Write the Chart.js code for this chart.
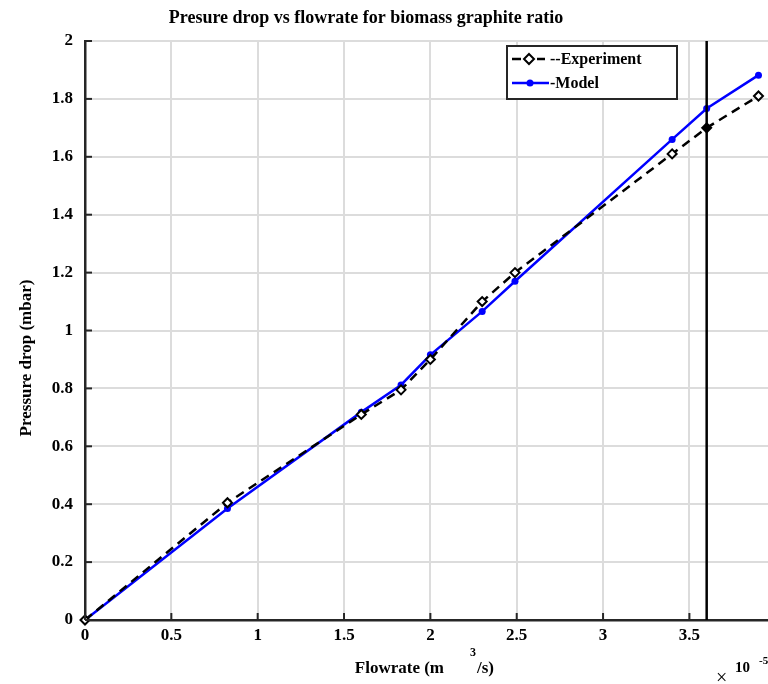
<!DOCTYPE html>
<html>
<head>
<meta charset="utf-8">
<script src="https://cdn.jsdelivr.net/npm/chart.js@4.4.1/dist/chart.umd.min.js"></script>
<style>
  html, body { margin: 0; padding: 0; background: #fff; overflow: hidden; }
  #myChart { display: block; }
</style>
</head>
<body>
<canvas id="myChart" width="785" height="684"></canvas>
<script>
// flowrate (x 10^-5 m3/s)
const flowrate = [0, 0.825, 1.6, 1.83, 2.0, 2.3, 2.49, 3.4, 3.6, 3.9];
// pressure drop (mbar)
const experiment = [0, 0.405, 0.71, 0.795, 0.9, 1.1, 1.2, 1.61, 1.70, 1.81];
const model = [0, 0.385, 0.718, 0.812, 0.916, 1.066, 1.17, 1.66, 1.767, 1.882];
const markerX = 3.6;
const xTicks = [0, 0.5, 1, 1.5, 2, 2.5, 3, 3.5, 4];
const yTicks = [0, 0.2, 0.4, 0.6, 0.8, 1, 1.2, 1.4, 1.6, 1.8, 2];

const FONT = '"Liberation Serif", "Times New Roman", serif';

// utility: zip x/y arrays into points
function toPoints(xs, ys) {
    return xs.map((x, i) => ({ x: x, y: ys[i] }));
}

const expFill = flowrate.map(x => x === markerX ? '#000' : '#fff');

// extra drawing: title, legend, inward ticks, axis labels
const decor = {
    id: 'decor',
    afterDraw(chart) {
        const ctx = chart.ctx;
        const xs = chart.scales.x, ys = chart.scales.y;
        const a = chart.chartArea;
        ctx.save();
        // inward ticks
        ctx.strokeStyle = '#262626';
        ctx.lineWidth = 2;
        xTicks.forEach(v => {
            const px = xs.getPixelForValue(v);
            ctx.beginPath(); ctx.moveTo(px, a.bottom); ctx.lineTo(px, a.bottom - 7); ctx.stroke();
        });
        yTicks.forEach(v => {
            const py = ys.getPixelForValue(v);
            ctx.beginPath(); ctx.moveTo(a.left, py); ctx.lineTo(a.left + 7, py); ctx.stroke();
        });

        ctx.fillStyle = '#000';
        ctx.textBaseline = 'alphabetic';
        // title
        ctx.font = 'bold 18px ' + FONT;
        ctx.textAlign = 'center';
        ctx.fillText('Presure drop vs flowrate for biomass graphite ratio', 366, 23);

        // y axis title
        ctx.save();
        ctx.translate(27, 358);
        ctx.rotate(-Math.PI / 2);
        ctx.font = 'bold 17px ' + FONT;
        ctx.textBaseline = 'middle';
        ctx.fillText('Pressure drop (mbar)', 0, 0);
        ctx.restore();

        // x axis title
        ctx.font = 'bold 17px ' + FONT;
        ctx.textAlign = 'right';
        ctx.fillText('Flowrate (m', 444, 673);
        ctx.textAlign = 'left';
        ctx.font = 'bold 12px ' + FONT;
        ctx.fillText('3', 470, 656);
        ctx.font = 'bold 17px ' + FONT;
        ctx.fillText('/s)', 477, 673);

        // exponent
        ctx.font = '20px ' + FONT;
        ctx.fillText('\u00d7', 716, 684);
        ctx.font = 'bold 15px ' + FONT;
        ctx.fillText('10', 735, 672);
        ctx.font = 'bold 11px ' + FONT;
        ctx.fillText('-5', 759, 664);

        // legend box
        const lx = 507, ly = 46, lw = 170, lh = 53;
        ctx.fillStyle = '#fff';
        ctx.fillRect(lx, ly, lw, lh);
        ctx.strokeStyle = '#262626';
        ctx.lineWidth = 2;
        ctx.strokeRect(lx, ly, lw, lh);

        // experiment entry
        ctx.strokeStyle = '#000';
        ctx.lineWidth = 2.5;
        ctx.beginPath(); ctx.moveTo(512, 59); ctx.lineTo(521, 59); ctx.moveTo(537, 59); ctx.lineTo(545, 59); ctx.stroke();
        ctx.lineWidth = 2;
        ctx.beginPath();
        ctx.moveTo(529, 54); ctx.lineTo(534, 59); ctx.lineTo(529, 64); ctx.lineTo(524, 59); ctx.closePath();
        ctx.fillStyle = '#fff'; ctx.fill(); ctx.stroke();
        ctx.fillStyle = '#000';
        ctx.font = 'bold 16px ' + FONT;
        ctx.fillText('--Experiment', 550, 64);

        // model entry
        ctx.strokeStyle = '#0000ff';
        ctx.lineWidth = 2.5;
        ctx.beginPath(); ctx.moveTo(512, 83); ctx.lineTo(549, 83); ctx.stroke();
        ctx.fillStyle = '#0000ff';
        ctx.beginPath(); ctx.arc(530, 83, 3.5, 0, Math.PI * 2); ctx.fill();
        ctx.fillStyle = '#000';
        ctx.fillText('-Model', 550, 88);
        ctx.restore();
    }
};

const canvas = document.getElementById('myChart');
new Chart(canvas.getContext('2d'), {
    type: 'scatter',
    data: {
        datasets: [
            {
                label: 'vline',
                data: [{ x: markerX, y: 0 }, { x: markerX, y: 2 }],
                showLine: true,
                borderColor: '#000',
                borderWidth: 2.5,
                pointRadius: 0
            },
            {
                label: '--Experiment',
                data: toPoints(flowrate, experiment),
                showLine: true,
                borderColor: '#000',
                borderWidth: 2.5,
                borderDash: [9, 6],
                pointStyle: 'rectRot',
                pointRadius: 4.5,
                pointBorderWidth: 2,
                pointBorderColor: '#000',
                pointBackgroundColor: expFill
            },
            {
                label: '-Model',
                data: toPoints(flowrate, model),
                showLine: true,
                borderColor: '#0000ff',
                backgroundColor: '#0000ff',
                borderWidth: 2.5,
                pointRadius: 3.5,
                pointBorderWidth: 0
            }
        ]
    },
    options: {
        responsive: false,
        animation: false,
        devicePixelRatio: 1,
        clip: false,
        layout: { padding: { top: 41, left: 0, right: 0, bottom: 0 } },
        plugins: {
            legend: { display: false },
            title: { display: false },
            tooltip: { enabled: false }
        },
        scales: {
            x: {
                type: 'linear',
                min: 0,
                max: 4,
                afterBuildTicks: s => { s.ticks = xTicks.map(v => ({ value: v })); },
                afterFit: s => { s.height = 64; },
                grid: { color: '#dcdcdc', lineWidth: 2, drawTicks: false },
                border: { color: '#262626', width: 2.5 },
                ticks: {
                    color: '#000',
                    padding: 5,
                    maxRotation: 0,
                    font: { family: FONT, size: 17, weight: 'bold' },
                    callback: v => String(v)
                }
            },
            y: {
                type: 'linear',
                min: 0,
                max: 2,
                afterBuildTicks: s => { s.ticks = yTicks.map(v => ({ value: v })); },
                afterFit: s => { s.width = 85; },
                grid: { color: '#dcdcdc', lineWidth: 2, drawTicks: false },
                border: { color: '#262626', width: 2.5 },
                ticks: {
                    color: '#000',
                    padding: 12,
                    font: { family: FONT, size: 17, weight: 'bold' },
                    callback: v => String(Math.round(v * 10) / 10)
                }
            }
        }
    },
    plugins: [decor]
});
</script>
</body>
</html>
